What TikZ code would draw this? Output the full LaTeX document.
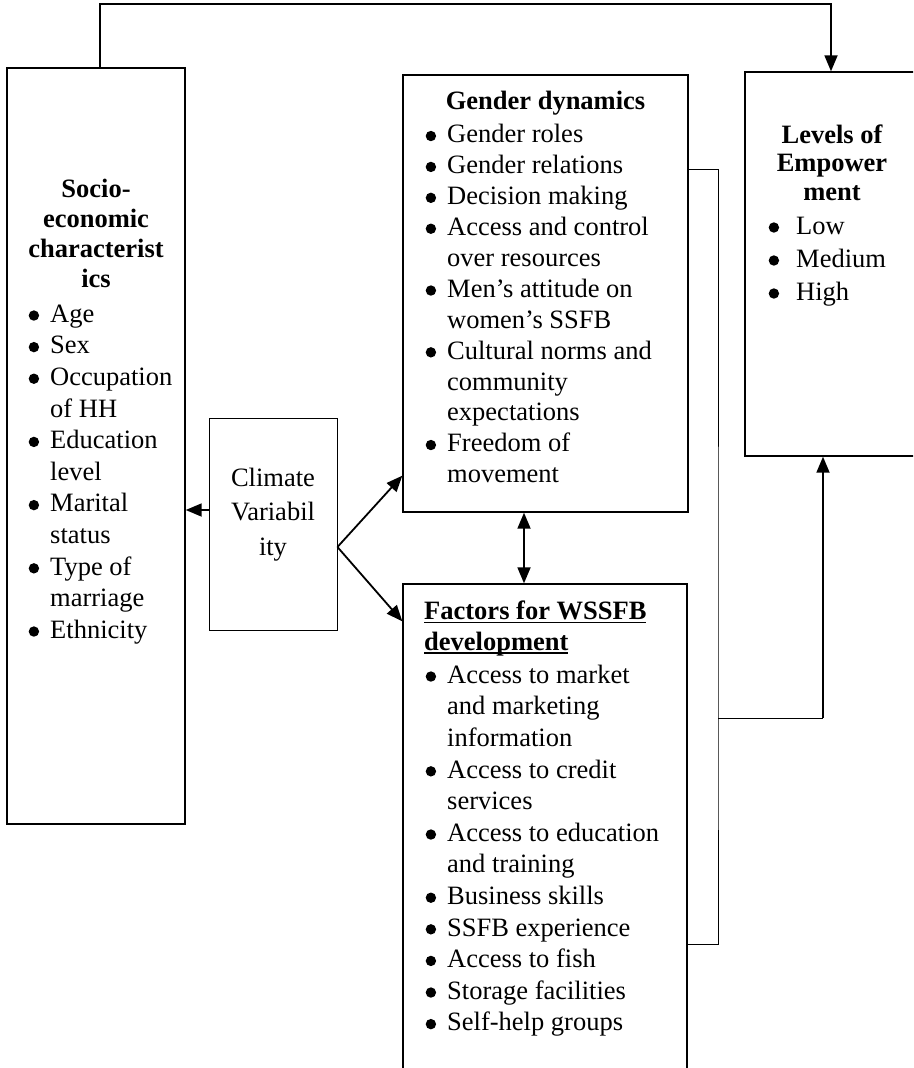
\documentclass[tikz,border=0pt]{standalone}
\usepackage{fontspec}
\setmainfont{Liberation Serif}
\usetikzlibrary{arrows.meta,positioning,calc}
\newcommand\fs[1]{\fontsize{26.5}{#1}\selectfont}
\newcommand\bul[1][21.5pt]{\makebox[#1][l]{\tikz[baseline=-6.8pt]\fill (0,0) circle (5.2pt);}}
\newcommand\ind{\hspace*{21.5pt}}
\newcommand\ulbf[1]{\setbox0\hbox{#1}\rlap{\rule[-3.5pt]{\wd0}{1.3pt}}\box0}

\begin{document}
\begin{tikzpicture}[x=1pt,y=-1pt,
  box/.style={draw, line width=1.4pt, inner sep=0pt},
  txt/.style={inner sep=0pt, align=left, anchor=north west, font=\fs{#1}},
  txt/.default=31.3,
  mid/.style={inner sep=0pt, align=center, anchor=north, font=\fs{#1}},
  hd/.style={inner sep=0pt, align=center, anchor=north, font=\fs{#1}\bfseries},
  hd/.default=30,
  arr/.style={line width=1.8pt, -{Triangle[length=16pt,width=13pt]}},
  arrtwo/.style={line width=1.8pt, {Triangle[length=16pt,width=13pt]}-{Triangle[length=16pt,width=13pt]}},
  link/.style={line width=0.9pt}]

  \useasboundingbox (0,0) rectangle (913,1068);
  \clip (0,0) rectangle (913,1068);

  %%% boxes
  \node[box, minimum width=178pt, minimum height=756pt] (socio) at (96,446) {};
  \node[box, line width=0.9pt, minimum width=128pt, minimum height=212pt] (climate) at (273,524) {};
  \node[box, minimum width=285pt, minimum height=437pt] (gender) at (545.5,293.5) {};
  \node[box, minimum width=284pt, minimum height=500pt] (factors) at (545,834) {};
  \node[box, minimum width=172pt, minimum height=384pt] (levels) at (831,264) {};

  %%% socio-economic
  \node[hd=29.7] (sociohd) at (96,177) {\strut Socio-\\economic\\characterist\\ics};
  \node[txt=31.6] (sociolist) at (28.5,300) {\strut\bul Age\\\bul Sex\\\bul Occupation\\\ind of HH\\
    \bul Education\\\ind level\\\bul Marital\\\ind status\\\bul Type of\\\ind marriage\\\bul Ethnicity};

  %%% climate
  \node[mid=34.5] (climtxt) at (273,462) {\strut Climate\\Variabil\\ity};

  %%% gender dynamics
  \node[hd=31] (genderhd) at (545.5,88) {\strut Gender dynamics};
  \node[txt=30.9] (genderlist) at (425.5,121) {\strut\bul Gender roles\\\bul Gender relations\\
    \bul Decision making\\\bul Access and control\\\ind over resources\\\bul Men's attitude on\\
    \ind women's SSFB\\\bul Cultural norms and\\\ind community\\\ind expectations\\
    \bul Freedom of\\\ind movement};

  %%% factors
  \node[txt=30.5, font=\fs{30.5}\bfseries] (factorshd) at (424,598) {\strut\ulbf{Factors for WSSFB}\\\ulbf{development}};
  \node[txt=31.6] (factorslist) at (425.5,661) {\strut\bul Access to market\\\ind and marketing\\
    \ind information\\\bul Access to credit\\\ind services\\\bul Access to education\\
    \ind and training\\\bul Business skills\\\bul SSFB experience\\\bul Access to fish\\
    \bul Storage facilities\\\bul Self-help groups};

  %%% levels
  \node[hd=28.5] (levelshd) at (832,123) {\strut Levels of\\Empower\\ment};
  \node[txt=33] (levelslist) at (768.5,211) {\strut\bul[27.5pt]Low\\\bul[27.5pt]Medium\\\bul[27.5pt]High};

  %%% connectors
  \draw[arr] ([xshift=4pt]socio.north) -- ++(0,-63) -| (levels.north);

  \coordinate (cw) at ([yshift=14pt]climate.west);
  \draw[arr] (cw) -- (cw -| socio.east);
  \coordinate (cv) at ([yshift=-23pt]climate.east);
  \draw[arr] (cv) -- ([yshift=37pt]gender.south west);
  \draw[arr] (cv) -- ([yshift=-38pt]factors.north west);

  \coordinate (dd) at ([xshift=-21.5pt]gender.south);
  \draw[arrtwo] (dd) -- (dd |- factors.north);

  \coordinate (jn) at (718,718);
  \coordinate (lv) at ([xshift=-8pt]levels.south);
  \draw[link] ([yshift=124.5pt]gender.east) -| (jn) |- ([yshift=-110pt]factors.east);
  \draw[link] (jn) -- (jn -| lv);
  \draw[arr] (jn -| lv) -- (lv);

\end{tikzpicture}
\end{document}
